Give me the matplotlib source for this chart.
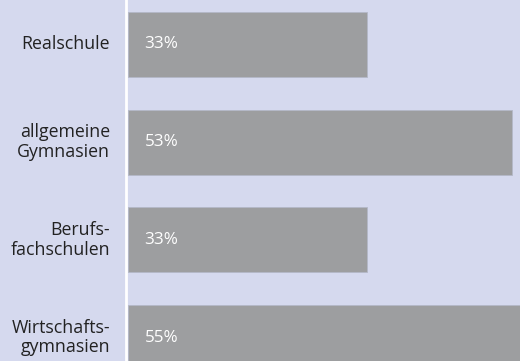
import matplotlib.pyplot as plt

categories = ["Realschule", "allgemeine\nGymnasien", "Berufs-\nfachschulen", "Wirtschafts-\ngymnasien"]
values = [33, 53, 33, 55]
value_labels = ["33%", "53%", "33%", "55%"]

bg = "#d5d9ee"
bar_color = "#9d9ea0"

plt.rcParams['font.family'] = ['Open Sans', 'DejaVu Sans']

fig = plt.figure(figsize=(5.2, 3.61), dpi=100, facecolor=bg)
ax = fig.add_axes([128 / 520, 0, 392 / 520, 1])
ax.set_facecolor(bg)

ypos = list(range(len(values)))
ax.barh(ypos, values, height=0.665, color=bar_color, edgecolor="#b4b8c8", linewidth=0.6)

ax.set_xlim(0, 392 / 7.25)
ax.set_ylim(3.24, -0.455)

for y, lab in zip(ypos, value_labels):
    ax.text(2.3, y, lab, color="white", fontsize=12.3, va="center", ha="left")

for y, cat in zip(ypos, categories):
    ax.text(-2.45, y, cat, color="#222222", fontsize=12.8, va="center", ha="right",
            multialignment="right", linespacing=1.12, clip_on=False)

ax.axvline(-0.28, color="white", linewidth=2, clip_on=False)

for s in ax.spines.values():
    s.set_visible(False)
ax.set_xticks([])
ax.set_yticks([])

fig.savefig("out.png", dpi=100, facecolor=bg)
